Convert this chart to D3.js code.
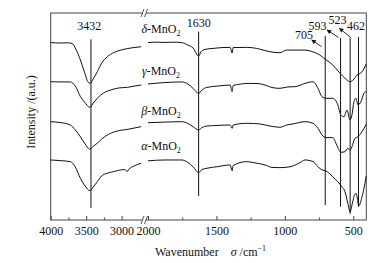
<!DOCTYPE html>
<html>
<head>
<meta charset="utf-8">
<script src="https://cdn.jsdelivr.net/npm/d3@7"></script>
<style>
  body { margin: 0; background: #fff; }
  svg text { font-family: "Liberation Serif", "Times New Roman", serif; font-size: 12px; fill: #111; }
</style>
</head>
<body>
<svg width="382" height="263"></svg>
<script>
// FTIR spectra of MnO2 polymorphs, broken x axis (4000-2680 | 2000-405)

// [wavenumber, intensity a.u.]
let deltaMnO2 = [[4000,85.7],[3867,85.5],[3760,85.6],[3700,85.3],[3639,82.1],[3581,77.3],[3524,71.5],[3470,66.5],[3440,66.0],[3410,67.6],[3343,71.6],[3281,75.8],[3200,78.9],[3110,80.9],[3010,82.1],[2867,83.1],[2724,83.7],
  [2000,85.7],[1940,85.9],[1876,85.8],[1810,85.9],[1754,85.7],[1708,84.5],[1671,83.1],[1630,79.2],[1613,81.2],[1584,82.4],[1525,82.9],[1459,83.3],[1400,83.4],[1385,80.7],[1378,83.3],[1279,83.4],[1206,82.9],[1160,82.1],[1109,81.3],[1036,80.8],[987,82.1],[914,82.1],[853,82.1],[794,81.2],[760,80.3],[704,77.6],[650,74.9],[597,70.9],[561,68.5],[524,66.8],[502,67.6],[473,70.0],[436,71.6],[405,75.5]];

let gammaMnO2 = [[4000,66.8],[3867,66.7],[3724,66.7],[3653,64.7],[3581,59.6],[3524,57.0],[3445,54.4],[3410,56.0],[3343,58.8],[3253,61.4],[3153,62.8],[3039,63.8],[2914,64.1],[2824,64.7],[2724,65.2],
  [2000,65.7],[1876,66.4],[1754,66.7],[1708,65.7],[1671,63.6],[1630,61.2],[1605,62.8],[1569,64.1],[1489,64.7],[1400,65.2],[1385,62.0],[1378,65.0],[1255,66.0],[1196,65.9],[1145,65.2],[1094,64.0],[1036,63.6],[978,64.3],[926,64.4],[853,66.0],[794,66.8],[758,63.6],[729,59.6],[700,58.8],[650,58.8],[613,55.6],[591,50.7],[568,49.9],[546,53.1],[524,48.3],[510,50.7],[495,57.2],[480,58.8],[466,55.6],[444,57.2],[422,61.2],[405,62.2]];

let betaMnO2 = [[4000,47.5],[3867,47.1],[3724,45.9],[3653,43.5],[3581,40.2],[3524,37.2],[3445,34.2],[3410,35.3],[3343,37.1],[3281,39.1],[3200,41.1],[3081,42.8],[2914,43.8],[2824,44.4],[2724,45.1],
  [2000,47.0],[1876,47.3],[1754,47.5],[1708,46.6],[1671,45.1],[1630,43.5],[1605,44.7],[1569,45.4],[1489,45.7],[1400,45.9],[1385,44.3],[1378,45.9],[1279,46.7],[1182,46.4],[1109,45.4],[1036,44.8],[985,45.9],[941,46.4],[853,47.5],[794,46.7],[758,44.3],[729,41.1],[700,39.8],[650,39.8],[621,36.2],[591,32.7],[561,33.0],[540,34.6],[524,33.8],[510,35.4],[488,39.5],[466,40.2],[436,42.7],[405,46.3]];

let alphaMnO2 = [[4000,29.0],[3867,28.7],[3724,28.2],[3653,25.6],[3581,20.1],[3524,16.9],[3445,14.2],[3410,15.5],[3343,18.5],[3281,21.3],[3200,22.6],[3110,23.4],[3010,24.2],[2954,24.4],[2924,23.4],[2896,24.6],[2824,26.1],[2724,27.4],
  [2000,28.6],[1876,29.0],[1754,29.0],[1708,27.8],[1671,25.7],[1630,22.9],[1605,24.4],[1569,25.0],[1489,25.8],[1400,26.6],[1385,23.8],[1378,26.3],[1279,28.2],[1211,27.5],[1145,26.6],[1094,25.4],[1036,25.3],[963,25.7],[890,27.7],[853,29.0],[794,28.2],[758,25.7],[729,24.2],[700,23.7],[650,20.9],[613,18.5],[584,16.1],[561,13.7],[540,8.1],[523,3.9],[510,7.2],[495,11.3],[480,12.9],[468,9.5],[461,6.8],[436,11.3],[415,17.7],[405,21.3]];

let seriesNames = ["δ", "γ", "β", "α"];
let seriesLabelY = [90.3, 70.0, 50.7, 33.8];   // intensity at label baseline

// peak marker lines: wavenumber, top and bottom (intensity)
let peaks = [3432, 1630, 705, 593, 523, 462];
let peakTop = [87.3, 91.0, 88.9, 87.9, 87.9, 88.4];
let peakBottom = [5.8, 11.6, 7.2, 6.4, 2.9, 6.3];
// where each peak number is written [wavenumber, intensity]
let peakLabelAt = [[3455, 91.8], [1630, 93.2], [860, 87.4], [762, 91.8], [616, 94.7], [480, 91.8]];
// arrows [from, to] in [wavenumber, intensity]
let arrows = [[[731, 83.7], [804, 87.0]], [[608, 88.2], [692, 91.8]], [[519, 88.2], [602, 92.6]]];

let leftMajor = [4000, 3500, 3000], leftMinor = [3750, 3250];
let rightMajor = [2000, 1500, 1000, 500], rightMinor = [1750, 1250, 750];

// layout
let mLeft = 50.7, mRight = 366.3, mTop = 13, mBottom = 220;
let svg = d3.select("svg");

let xLeft = d3.scaleLinear().domain([4000, 2680]).range([mLeft, 144.3]);
let xRight = d3.scaleLinear().domain([2000, 405]).range([148, mRight]);
let y = d3.scaleLinear().domain([0, 100]).range([mBottom, mTop]);
let x = wn => wn > 2300 ? xLeft(wn) : xRight(wn);

// frame
svg.append("rect")
  .attr("x", mLeft).attr("y", mTop)
  .attr("width", mRight - mLeft).attr("height", mBottom - mTop)
  .attr("fill", "none").attr("stroke", "#444").attr("stroke-width", 1);

// curves, drawn in two pieces each
let line = d3.line().x(d => x(d[0])).y(d => y(d[1])).curve(d3.curveMonotoneX);
[deltaMnO2, gammaMnO2, betaMnO2, alphaMnO2].forEach(s => {
  [s.filter(d => d[0] > 2300), s.filter(d => d[0] <= 2000)].forEach(part => {
    svg.append("path")
      .attr("d", line(part))
      .attr("fill", "none").attr("stroke", "#111").attr("stroke-width", 1);
  });
});

// axes
function addAxis(scale, major, minor) {
  let gMaj = svg.append("g").attr("transform", "translate(0," + mBottom + ")")
    .call(d3.axisBottom(scale).tickValues(major).tickSize(-4).tickPadding(6.5).tickFormat(d3.format("d")));
  let gMin = svg.append("g").attr("transform", "translate(0," + mBottom + ")")
    .call(d3.axisBottom(scale).tickValues(minor).tickSize(-2.5).tickFormat(""));
  [gMaj, gMin].forEach(g => {
    g.select(".domain").remove();
    g.selectAll("line").attr("stroke", "#444");
  });
  gMaj.selectAll("text").attr("font-size", 12).style("font-family", '"Liberation Serif", serif').attr("fill", "#111");
}
addAxis(xLeft, leftMajor, leftMinor);
addAxis(xRight, rightMajor, rightMinor);

// axis break marks (bottom and top)
[mBottom, mTop].forEach(yy => {
  svg.append("polygon")
    .attr("points", [[141, yy + 4], [144, yy - 4], [147.5, yy - 4], [144.5, yy + 4]].join(" "))
    .attr("fill", "#fff");
  [[141, 144], [144.5, 147.5]].forEach(p => {
    svg.append("line")
      .attr("x1", p[0]).attr("y1", yy + 4).attr("x2", p[1]).attr("y2", yy - 4)
      .attr("stroke", "#444").attr("stroke-width", 0.9);
  });
});

// peak lines
peaks.forEach((p, i) => {
  svg.append("line")
    .attr("x1", x(p)).attr("x2", x(p))
    .attr("y1", y(peakTop[i])).attr("y2", y(peakBottom[i]))
    .attr("stroke", "#111").attr("stroke-width", 1);
  svg.append("text")
    .attr("x", x(peakLabelAt[i][0])).attr("y", y(peakLabelAt[i][1]))
    .attr("text-anchor", "middle")
    .text(p);
});

// arrows
svg.append("defs").append("marker")
  .attr("id", "head").attr("viewBox", "0 0 10 10")
  .attr("refX", 9).attr("refY", 5)
  .attr("markerWidth", 6).attr("markerHeight", 5)
  .attr("orient", "auto")
  .append("path").attr("d", "M0,0 L10,5 L0,10 z").attr("fill", "#111");
arrows.forEach(a => {
  svg.append("line")
    .attr("x1", x(a[0][0])).attr("y1", y(a[0][1]))
    .attr("x2", x(a[1][0])).attr("y2", y(a[1][1]))
    .attr("stroke", "#111").attr("stroke-width", 0.9)
    .attr("marker-end", "url(#head)");
});

// series labels
seriesNames.forEach((n, i) => {
  let t = svg.append("text")
    .attr("x", x(1905)).attr("y", y(seriesLabelY[i]))
    .attr("text-anchor", "middle");
  t.append("tspan").style("font-style", "italic").text(n);
  t.append("tspan").text("-MnO");
  t.append("tspan").attr("font-size", 8).attr("dy", 3).text("2");
});

// axis titles
svg.append("text")
  .attr("transform", "translate(35,112) rotate(-90)")
  .attr("text-anchor", "middle")
  .text("Intensity /(a.u.)");

let xt = svg.append("text").attr("x", 155).attr("y", 256);
xt.append("tspan").text("Wavenumber");
xt.append("tspan").attr("dx", 12).style("font-style", "italic").text("σ");
xt.append("tspan").text(" /cm");
xt.append("tspan").attr("font-size", 8).attr("dy", -5).text("−1");
</script>
</body>
</html>
